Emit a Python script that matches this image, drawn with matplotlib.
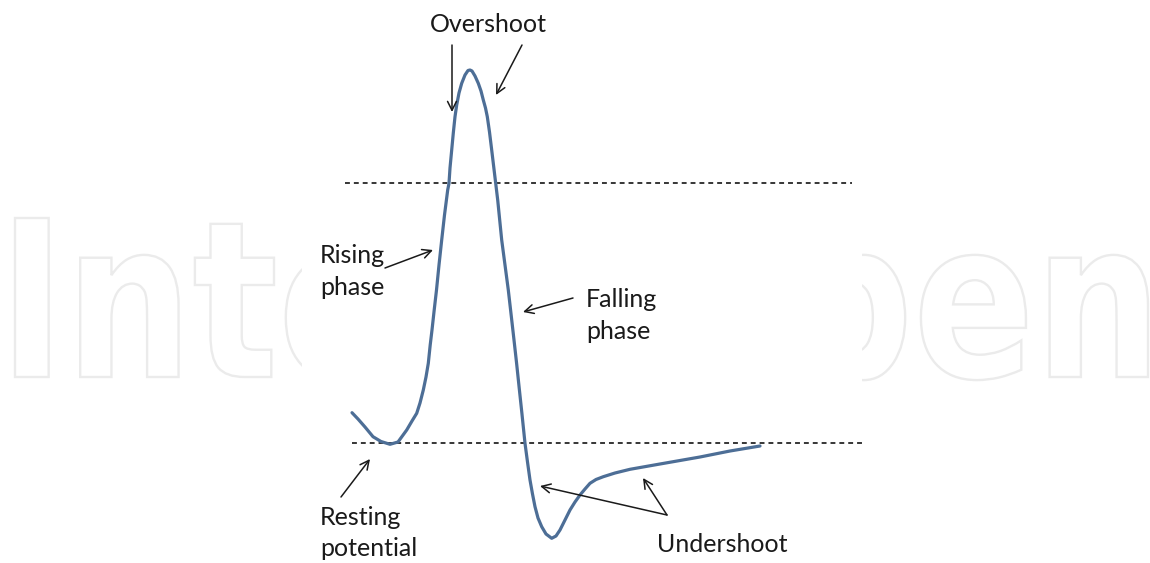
import matplotlib.pyplot as plt
from matplotlib.textpath import TextPath
from matplotlib.patches import PathPatch, Rectangle
from matplotlib.font_manager import FontProperties
from matplotlib.transforms import Affine2D

# action potential trace (x: time, y: screen level, down = more negative)
curve_x = [352, 358, 365, 373, 381, 390, 398, 406.7, 412, 416.7, 420, 423.3, 426, 428.3,
           430.2, 432, 434.2, 436.5, 439, 441.7, 444.5, 447.7, 449, 450, 451.7, 453.3, 455,
           456.7, 459, 461.7, 465, 468, 470, 472, 475, 478.3, 481, 483.3, 485.5, 487.3,
           489.5, 491.7, 495.7, 497.7, 501.7, 505, 508.3, 511.5, 514, 516.6, 519.2,
           521.9, 525, 527.5, 530, 532.5, 535, 538, 541.7, 546, 551.7, 556, 560, 565,
           570, 575, 580, 585, 590, 596, 603.3, 615, 630, 660, 700, 730, 760]
curve_y = [412.7, 419, 427, 436.7, 441.5, 444.3, 442, 430, 421, 413.3, 403, 390, 377, 363.3,
           345, 330, 310, 290, 265, 240, 215, 190, 183.3, 168, 150, 133, 116.7,
           105, 93, 83.3, 75, 70.5, 70, 71, 76, 83.3, 91, 100, 108, 116.7,
           132, 150, 183.3, 200, 240, 265, 290, 318, 340, 363.3, 388,
           413.3, 443.3, 462, 480, 494, 506.7, 518, 526.7, 534, 538.3, 536, 530, 520,
           510, 502, 495, 489, 483.3, 479.5, 476.7, 473, 469.3, 464, 457, 451, 446]

threshold_level = 183
threshold_span = (345, 852)
resting_level = 443
resting_span = (352, 862)

labels = ["Overshoot", "Rising", "phase", "Falling", "phase", "Resting", "potential", "Undershoot"]

fig = plt.figure(figsize=(11.5, 5.63), dpi=100)
ax = fig.add_axes([0, 0, 1, 1])
ax.set_xlim(0, 1150)
ax.set_ylim(563, 0)
ax.axis("off")

# faint outlined publisher watermark behind the figure
tp = TextPath((0, 0), "IntechOpen", size=1,
              prop=FontProperties(family="DejaVu Sans", weight="bold"))
ext = tp.get_extents()
sx = (1148 - 15) / ext.width
sy = 159 / 0.729
tr = Affine2D().translate(-ext.x0, 0).scale(sx, -sy).translate(15, 377)
ax.add_patch(PathPatch(tr.transform_path(tp), facecolor="white", edgecolor="#ebebeb",
                       lw=1.7, zorder=0))
ax.add_patch(Rectangle((302, 0), 560, 563, facecolor="white", edgecolor="none", zorder=1))

# threshold and resting dashed lines
ax.hlines(threshold_level, *threshold_span, colors="black", linestyles=(0, (3.2, 2.6)), lw=1.1, zorder=2)
ax.hlines(resting_level, *resting_span, colors="black", linestyles=(0, (3.2, 2.6)), lw=1.1, zorder=2)

ax.plot(curve_x, curve_y, color="#4d6e96", lw=2.3, solid_joinstyle="round",
        solid_capstyle="round", zorder=3)

txt = dict(fontsize=18, family="Lato", color="#1a1a1a", zorder=4, va="baseline")
ax.text(488, 32, labels[0], ha="center", **txt)
ax.text(320, 263, labels[1], ha="left", **txt)
ax.text(320, 295, labels[2], ha="left", **txt)
ax.text(586, 307, labels[3], ha="left", **txt)
ax.text(586, 339, labels[4], ha="left", **txt)
ax.text(320, 525, labels[5], ha="left", **txt)
ax.text(320, 556, labels[6], ha="left", **txt)
ax.text(657, 552, labels[7], ha="left", **txt)

arr = dict(arrowstyle="->", color="#1a1a1a", lw=1.1, mutation_scale=16, shrinkA=0, shrinkB=0)


def arrow(tail, head):
    ax.annotate("", xy=head, xytext=tail, arrowprops=arr, zorder=4)


arrow((452, 45), (452, 112))
arrow((522, 45), (496, 95))
arrow((385, 268), (433, 250))
arrow((573, 298), (523, 312))
arrow((341, 497), (370, 459))
arrow((667, 515), (540, 486))
arrow((667, 515), (643, 478))

fig.savefig("out.png", dpi=100)
